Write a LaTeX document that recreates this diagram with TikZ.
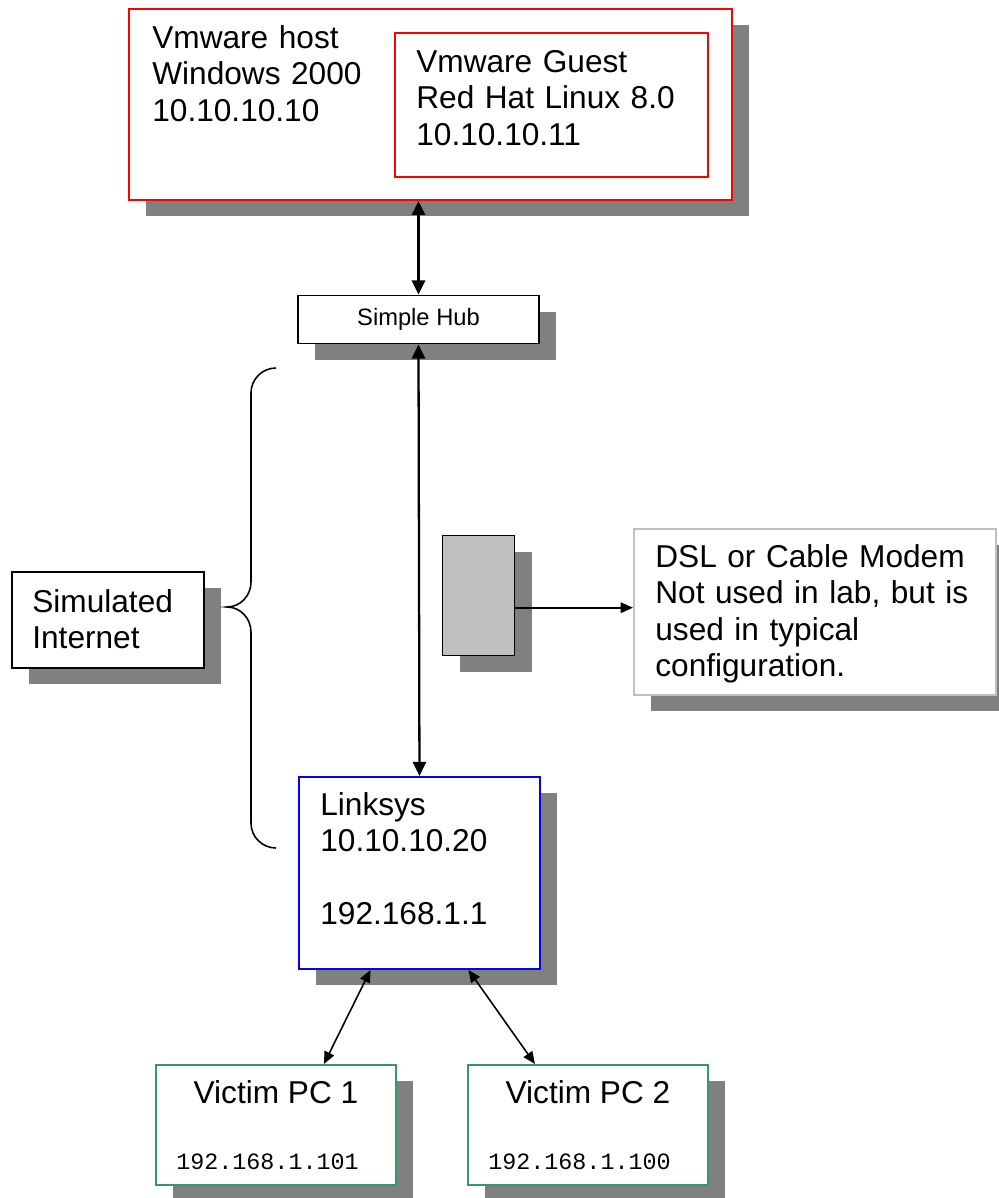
\documentclass[tikz,border=0pt]{standalone}
\usepackage{fontspec}
\setmainfont{Liberation Sans}
\newfontfamily\monofnt{Liberation Mono}
\usetikzlibrary{positioning,arrows.meta,shadows}

\newlength\px
\setlength\px{0.02cm}

\definecolor{shade}{HTML}{808080}
\definecolor{pcgreen}{HTML}{339966}
\definecolor{modemgray}{HTML}{C0C0C0}

\begin{document}
\begin{tikzpicture}[
  x=\px, y=-\px,
  box/.style={draw, fill=white, line width=1.1pt, inner sep=0pt, anchor=north west,
    drop shadow={shadow xshift=17\px, shadow yshift=-16\px, fill=shade, opacity=1}},
  plainbox/.style={draw, fill=white, line width=1.1pt, inner sep=0pt, anchor=north west},
  lbl/.style={anchor=base west, inner sep=0pt, align=left, text width=340\px,
    font=\fontsize{18}{20.8}\selectfont},
  ipaddr/.style={anchor=base west, inner sep=0pt, font=\monofnt\fontsize{13.3}{16}\selectfont},
  dbl/.style={{Triangle[length=8pt,width=7.5pt]}-{Triangle[length=8pt,width=7.5pt]}, line width=1.3pt},
  dbl2/.style={{Triangle[length=7pt,width=6pt]}-{Triangle[length=7pt,width=6pt]}, line width=0.9pt},
  arr/.style={-{Triangle[length=7pt,width=6pt]}, line width=0.9pt}
]
\useasboundingbox (0,0) rectangle (999,1198);

% vmware host and guest
\node[box, draw=red, minimum width=603\px, minimum height=191\px] (host) at (128,8) {};
\node[plainbox, draw=red, line width=0.9pt, minimum width=313\px, minimum height=144\px] (guest) at (394,32) {};
\node[lbl] (hosttxt) at (152,48) {Vmware host\\Windows 2000\\10.10.10.10};
\node[lbl] (guesttxt) at (416,72) {Vmware Guest\\Red Hat Linux 8.0\\10.10.10.11};

% hub
\node[box, anchor=center, minimum width=241\px, minimum height=48\px,
  font=\fontsize{13.5}{16}\selectfont] (hub) at (418.5,319.5) {Simple Hub};

% simulated internet
\node[box, minimum width=192\px, minimum height=96\px] (sim) at (11,571) {};
\node[lbl] (simtxt) at (32,612) {Simulated\\Internet};
\draw[line width=0.9pt] (276,368) to[out=180,in=90] (251,393) -- (251,582)
  to[out=270,in=0] (227,607) to[out=0,in=90] (251,632) -- (251,823)
  to[out=270,in=180] (276,848);

% modem
\node[box, fill=modemgray, line width=0.8pt, minimum width=72\px, minimum height=120\px] (modem) at (442,535) {};
\node[box, draw=modemgray, minimum width=362\px, minimum height=166\px] (dsl) at (633,528) {};
\node[lbl] (dsltxt) at (655,567) {DSL or Cable Modem\\Not used in lab, but is\\used in typical\\configuration.};

% linksys
\node[box, draw=blue, minimum width=241\px, minimum height=192\px] (lnk) at (298,776) {};
\node[lbl] (lnktxt) at (320,815) {Linksys\\10.10.10.20\\[20.8pt]192.168.1.1};

% victims
\node[box, draw=pcgreen, minimum width=240\px, minimum height=120\px] (pc1) at (155,1064) {};
\node[box, draw=pcgreen, minimum width=240\px, minimum height=120\px] (pc2) at (467,1064) {};
\node[anchor=base, inner sep=0pt, font=\fontsize{18}{20.8}\selectfont] (pc1name) at (276,1103) {Victim PC 1};
\node[anchor=base, inner sep=0pt, font=\fontsize{18}{20.8}\selectfont] (pc2name) at (588,1103) {Victim PC 2};
\node[ipaddr] (pc1ip) at (176,1169) {192.168.1.101};
\node[ipaddr] (pc2ip) at (488,1169) {192.168.1.100};

% links
\draw[dbl] (hub.north |- host.south) -- (hub.north);
\draw[dbl] (hub.south) -- (lnk.north);
\coordinate (mdmout) at ([yshift=-12\px]modem.east);
\draw[arr] (mdmout) -- (mdmout -| dsl.west);
\draw[dbl2] ([xshift=-49\px]lnk.south) -- ([xshift=48\px]pc1.north);
\draw[dbl2] ([xshift=49\px]lnk.south) -- ([xshift=-53\px]pc2.north);
\end{tikzpicture}
\end{document}
